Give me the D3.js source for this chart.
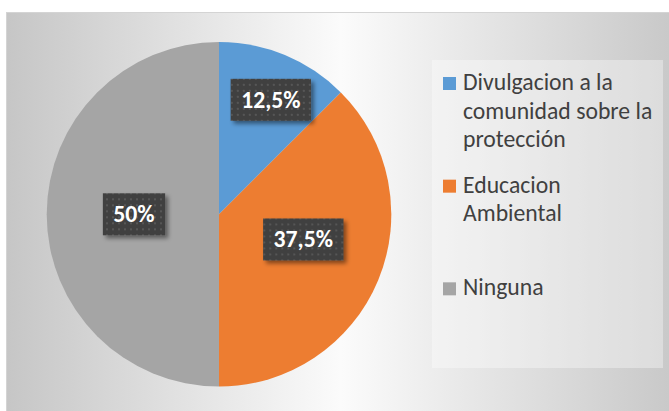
<!DOCTYPE html>
<html>
<head>
<meta charset="utf-8">
<script src="https://cdn.jsdelivr.net/npm/d3@7"></script>
<style>
  html, body { margin: 0; padding: 0; background: #ffffff; }
  svg { display: block; }
</style>
</head>
<body>
<svg id="chart" width="669" height="411"></svg>
<script>
// ---- data ----
const categories = ["Divulgacion a la comunidad sobre la protección", "Educacion Ambiental", "Ninguna"];
const values = [12.5, 37.5, 50];
const valueLabels = ["12,5%", "37,5%", "50%"];
const colors = ["#5b9bd5", "#ed7d31", "#a5a5a5"];

// ---- layout ----
const W = 669, H = 411;
const cx = 219, cy = 214.3, R = 172.3;
const labelRadius = [125, 88, 85];
const labelNudge = [[4, 1], [3, -8.5], [0, 0]];
const legendBox = { x: 432, y: 60, w: 231, h: 308 };
const fontFamily = "Calibri, Carlito, 'Open Sans', sans-serif";
const fontSize = 23.7;

const svg = d3.select("#chart");
const defs = svg.append("defs");

const bg = defs.append("linearGradient").attr("id", "bgGrad")
  .attr("x1", "0").attr("y1", "0").attr("x2", "1").attr("y2", "0");
bg.append("stop").attr("offset", "0").attr("stop-color", "#c6c6c6");
bg.append("stop").attr("offset", "0.5").attr("stop-color", "#fbfbfb");
bg.append("stop").attr("offset", "1").attr("stop-color", "#c8c8c8");

const pat = defs.append("pattern").attr("id", "dots").attr("patternUnits", "userSpaceOnUse")
  .attr("width", 6).attr("height", 6);
pat.append("rect").attr("width", 6).attr("height", 6).attr("fill", "#404040");
pat.append("rect").attr("x", 2).attr("y", 2).attr("width", 2).attr("height", 2).attr("fill", "#565656");

const sh = defs.append("filter").attr("id", "shadow").attr("x", "-20%").attr("y", "-20%").attr("width", "150%").attr("height", "160%");
sh.append("feDropShadow").attr("dx", 3).attr("dy", 3).attr("stdDeviation", 2)
  .attr("flood-color", "#000").attr("flood-opacity", 0.45);

// chart area background
svg.append("rect").attr("x", 6.5).attr("y", 12.5).attr("width", W).attr("height", H)
  .attr("fill", "url(#bgGrad)").attr("stroke", "#d4d4d4").attr("stroke-width", 1);

// pie
const pie = d3.pie().sort(null).value(d => d);
const arcs = pie(values);
const arc = d3.arc().innerRadius(0).outerRadius(R);
const g = svg.append("g").attr("transform", `translate(${cx},${cy})`);
g.selectAll("path.slice").data(arcs).join("path").attr("class", "slice")
  .attr("d", arc).attr("fill", (d, i) => colors[i]);

// data labels
const lab = g.selectAll("g.lab").data(arcs).join("g").attr("class", "lab")
  .attr("transform", (d, i) => {
    const c = d3.arc().innerRadius(labelRadius[i]).outerRadius(labelRadius[i]).centroid(d);
    return `translate(${c[0] + labelNudge[i][0]},${c[1] + labelNudge[i][1]})`;
  });
lab.append("text")
  .attr("text-anchor", "middle").attr("dy", "0.33em")
  .attr("font-family", fontFamily).attr("font-weight", "bold").attr("font-size", fontSize)
  .attr("fill", "#ffffff").text((d, i) => valueLabels[i]);
lab.each(function () {
  const t = d3.select(this).select("text");
  const w = t.node().getComputedTextLength();
  d3.select(this).insert("rect", "text")
    .attr("x", -w / 2 - 10.5).attr("y", -21).attr("width", w + 21).attr("height", 42)
    .attr("fill", "url(#dots)").attr("filter", "url(#shadow)");
});

// legend
svg.append("rect").attr("x", legendBox.x).attr("y", legendBox.y)
  .attr("width", legendBox.w).attr("height", legendBox.h)
  .attr("fill", "#ffffff").attr("fill-opacity", 0.35);

const ly = d3.scaleBand().domain(categories).range([legendBox.y, legendBox.y + legendBox.h]);
const leg = svg.selectAll("g.leg").data(categories).join("g").attr("class", "leg")
  .attr("transform", d => `translate(${legendBox.x + 11},${ly(d) + 30})`);
leg.append("rect").attr("x", 0).attr("y", -13).attr("width", 13).attr("height", 13)
  .attr("fill", (d, i) => colors[i]);
const maxW = 195;
leg.append("text")
  .attr("font-family", fontFamily).attr("font-size", fontSize).attr("fill", "#404040")
  .each(function (d) {
    const t = d3.select(this);
    const words = d.split(" ");
    let line = [], lineNo = 0;
    let ts = t.append("tspan").attr("x", 20).attr("y", 0);
    words.forEach(w => {
      line.push(w);
      ts.text(line.join(" "));
      if (ts.node().getComputedTextLength() > maxW && line.length > 1) {
        line.pop();
        ts.text(line.join(" "));
        line = [w];
        lineNo++;
        ts = t.append("tspan").attr("x", 20).attr("y", lineNo * 28.7).text(w);
      }
    });
  });
</script>
</body>
</html>
